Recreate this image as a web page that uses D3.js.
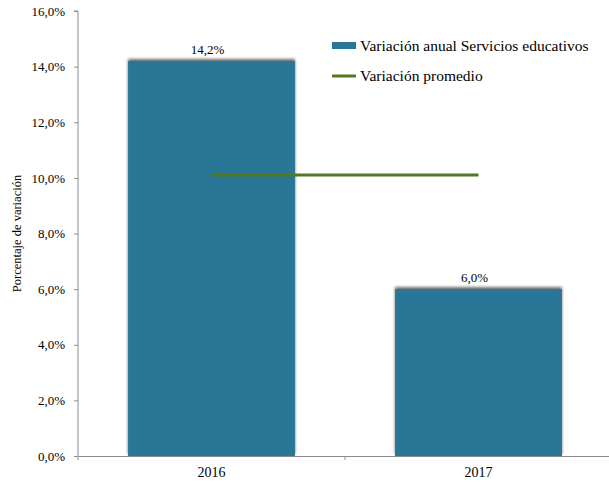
<!DOCTYPE html>
<html><head><meta charset="utf-8">
<script src="https://cdn.jsdelivr.net/npm/d3@7"></script>
<style>body{margin:0;background:#fff}svg{display:block;font-family:"Liberation Serif","Times New Roman",serif}</style>
</head><body><svg id="c" width="609" height="489"></svg>
<script>
const categories = ["2016", "2017"];
const values = [14.2, 6.0];
const average = [10.1, 10.1];
const yTicks = [0, 2, 4, 6, 8, 10, 12, 14, 16];
const seriesNames = ["Variación anual Servicios educativos", "Variación promedio"];

const svg = d3.select("#c");
const FF = "Liberation Serif, Times New Roman, serif";
const m = {left: 78, right: -3, top: 11, bottom: 33};
const W = 609, H = 489;
const x = d3.scaleBand().domain(categories).range([m.left, W - m.right]).paddingInner(0.375).paddingOuter(0.1875);
const y = d3.scaleLinear().domain([0, 16]).range([H - m.bottom, m.top]);
const fmt = v => d3.format(".1f")(v).replace(".", ",") + "%";
const barColor = "#2a7697", lineColor = "#4f7a23", axisColor = "#8c8c8c";

const defs = svg.append("defs");
const f = defs.append("filter").attr("id", "sh").attr("x", "-5%").attr("y", "-5%").attr("width", "110%").attr("height", "110%");
f.append("feGaussianBlur").attr("in", "SourceAlpha").attr("stdDeviation", 1.5);
f.append("feOffset").attr("dx", 0).attr("dy", -2).attr("result", "b");
f.append("feComponentTransfer").append("feFuncA").attr("type", "linear").attr("slope", 0.6);
const mg = f.append("feMerge"); mg.append("feMergeNode"); mg.append("feMergeNode").attr("in", "SourceGraphic");

// y axis
const ya = svg.append("g").attr("transform", `translate(${m.left},0)`)
  .call(d3.axisLeft(y).tickValues(yTicks).tickFormat(fmt).tickSize(4).tickPadding(9));
ya.attr("font-family", FF);
ya.select(".domain").attr("stroke", axisColor).attr("d", `M-4,${y(16)}H0V${y(0)}`);
ya.selectAll(".tick line").attr("stroke", axisColor);
ya.selectAll("text").attr("font-size", 13).attr("fill", "#000");

// bars
svg.append("g").selectAll("rect").data(categories).join("rect")
  .attr("x", d => x(d)).attr("width", x.bandwidth())
  .attr("y", (d, i) => y(values[i])).attr("height", (d, i) => y(0) - y(values[i]))
  .attr("fill", barColor).attr("filter", "url(#sh)");

// x axis
const xa = svg.append("g").attr("transform", `translate(0,${y(0)})`)
  .call(d3.axisBottom(x).tickSize(0).tickPadding(11));
xa.attr("font-family", FF);
xa.select(".domain").attr("stroke", axisColor);
xa.selectAll("text").attr("font-size", 14).attr("fill", "#000");
const bounds = [m.left, m.left + (W - m.right - m.left) / 2];
svg.append("g").selectAll("line").data(bounds).join("line")
  .attr("x1", d => d).attr("x2", d => d).attr("y1", y(0)).attr("y2", y(0) + 4).attr("stroke", axisColor);

// average line
const lineGen = d3.line().x((d, i) => x(categories[i]) + x.bandwidth() / 2).y(d => y(d));
svg.append("path").datum(average).attr("d", lineGen).attr("fill", "none")
  .attr("stroke", lineColor).attr("stroke-width", 3);

// labels
svg.append("g").attr("font-family", FF).selectAll("text").data(categories).join("text")
  .attr("x", d => x(d) + x.bandwidth() / 2 - 4).attr("y", (d, i) => y(values[i]) - 7)
  .attr("text-anchor", "middle").attr("font-size", 13).text((d, i) => fmt(values[i]));

// y title
svg.append("text").attr("font-family", FF).attr("transform", `translate(21,${(y(0) + y(16)) / 2}) rotate(-90)`)
  .attr("text-anchor", "middle").attr("font-size", 12.5).text("Porcentaje de variación");

// legend
const lg = svg.append("g").attr("font-family", FF).attr("transform", "translate(332,46)");
lg.append("rect").attr("x", 0).attr("y", -4).attr("width", 24).attr("height", 7).attr("fill", barColor);
lg.append("text").attr("x", 28).attr("y", 5).attr("font-size", 15.5).text(seriesNames[0]);
lg.append("line").attr("x1", 0).attr("x2", 24).attr("y1", 30).attr("y2", 30).attr("stroke", lineColor).attr("stroke-width", 3);
lg.append("text").attr("x", 28).attr("y", 35).attr("font-size", 15.5).text(seriesNames[1]);
</script></body></html>
